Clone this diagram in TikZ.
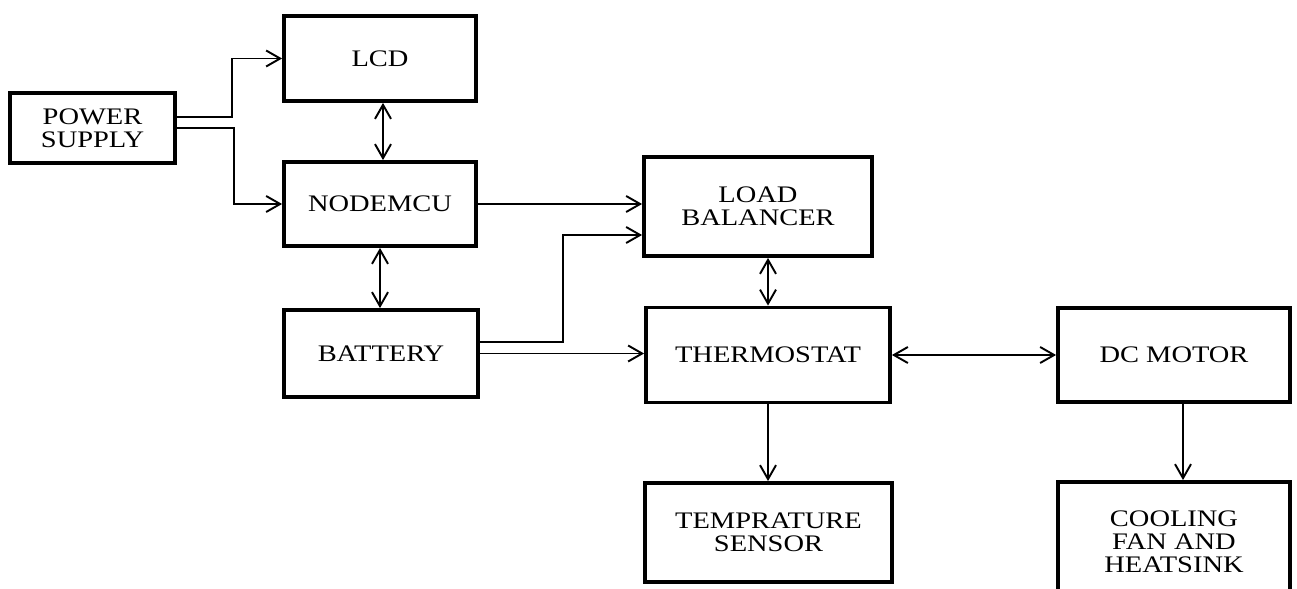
\documentclass[tikz,border=0pt]{standalone}
\usepackage{fontspec}
\setmainfont{Liberation Serif}[FakeStretch=1.2]
\usepackage{tikz}
\usetikzlibrary{arrows.meta}
\tikzset{
  flowarrow/.style={-{Straight Barb[length=2.8mm,width=3.2mm]}, line width=1.1pt},
  duplex/.style={{Straight Barb[length=2.8mm,width=3.2mm]}-{Straight Barb[length=2.8mm,width=3.2mm]}, line width=1.1pt},
  blockbox/.style={draw, line width=2.2pt, inner sep=0pt, align=center, fill=white}
}

\begin{document}
\begin{tikzpicture}[x=0.02cm, y=-0.02cm, every node/.style={font=\fontsize{13.5}{13.2}\selectfont}]
      \useasboundingbox (0,0) rectangle (1297,588);
      \node[blockbox, minimum width=3.3cm, minimum height=1.4cm] (power) at (92.5,128) {POWER\\SUPPLY};
      \node[blockbox, minimum width=3.84cm, minimum height=1.7cm] (lcd) at (380,58.5) {LCD};
      \node[blockbox, minimum width=3.84cm, minimum height=1.68cm] (mcu) at (380,204) {NODEMCU};
      \node[blockbox, minimum width=3.88cm, minimum height=1.74cm] (battery) at (381,353.5) {BATTERY};
      \node[blockbox, minimum width=4.56cm, minimum height=1.98cm] (loadbal) at (758,206.5) {LOAD\\BALANCER};
      \node[blockbox, minimum width=4.88cm, minimum height=1.9cm] (thermo) at (768,355) {THERMOSTAT};
      \node[blockbox, minimum width=4.94cm, minimum height=1.98cm] (sensor) at (768.5,532.5) {TEMPRATURE\\SENSOR};
      \node[blockbox, minimum width=4.64cm, minimum height=1.88cm] (motor) at (1174,355) {DC MOTOR};
      \node[blockbox, minimum width=4.64cm, minimum height=2.4cm] (fan) at (1174,542) {COOLING\\FAN AND\\HEATSINK};
      \draw[flowarrow] ([yshift=0.22cm]power.east) -- ++(55,0) |- (lcd.west);
      \draw[flowarrow] (power.east) -- ++(57,0) |- (mcu.west);
      \draw[duplex] ([xshift=0.06cm]lcd.south) -- ([xshift=0.06cm]mcu.north);
      \draw[duplex] (mcu.south) -- (battery.north -| mcu.south);
      \draw[flowarrow] (mcu.east) -- (mcu.east -| loadbal.west);
      \draw[flowarrow] ([yshift=0.23cm]battery.east) -- ++(83,0) |- ([yshift=-0.57cm]loadbal.west);
      \draw[flowarrow] (battery.east) -- (battery.east -| thermo.west);
      \draw[duplex] (thermo.north |- loadbal.south) -- (thermo.north);
      \draw[duplex] (thermo.east) -- (motor.west);
      \draw[flowarrow] (thermo.south) -- (thermo.south |- sensor.north);
      \draw[flowarrow] ([xshift=0.18cm]motor.south) -- ([xshift=0.18cm]fan.north);
    \end{tikzpicture}
\end{document}
